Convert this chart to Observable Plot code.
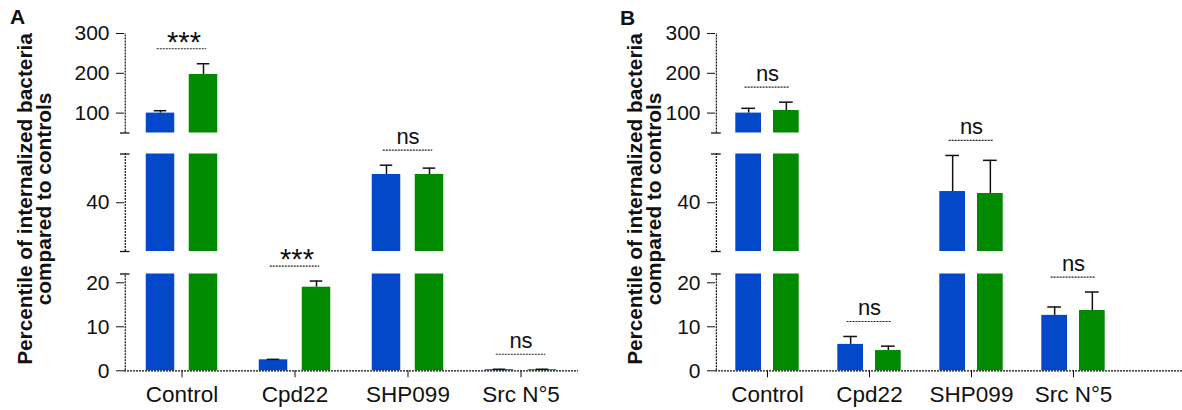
<!DOCTYPE html>
<html>
<head>
<meta charset="utf-8">
<script src="https://cdn.jsdelivr.net/npm/d3@7"></script>
<script src="https://cdn.jsdelivr.net/npm/@observablehq/plot@0.6"></script>
<style>
  body { margin: 0; background: #fff; }
  #chart { position: relative; width: 1182px; height: 410px; font-family: "Liberation Sans", Arial, sans-serif; color: #111; overflow: hidden; }
  #chart svg { position: absolute; top: 0; background: transparent !important; overflow: visible; }
  #chart [aria-label^="x-axis"] text { font-size: 22.5px; }
  #chart [aria-label^="y-axis"] text { font-size: 21px; }
  #chart [aria-label="stars"] text { letter-spacing: 3px; }
  .ylab { position: absolute; width: 380px; height: 40px; line-height: 19px; font-size: 20.8px; font-weight: bold; text-align: center; transform: rotate(-90deg); white-space: nowrap; }
  .letter { position: absolute; font-size: 21px; font-weight: bold; }
</style>
</head>
<body>
<div id="chart">
  <div class="letter" style="left:10px;top:5px;">A</div>
  <div class="letter" style="left:620px;top:6px;">B</div>
  <div class="ylab" style="left:-155px;top:179px;">Percentile of internalized bacteria<br>compared to controls</div>
  <div class="ylab" style="left:455px;top:179px;">Percentile of internalized bacteria<br>compared to controls</div>
</div>
<script>
// ---- data ----
const categories = ["Control", "Cpd22", "SHP099", "Src N°5"];

const blueA     = [100, 2.5, 45.8, 0.25];
const blueAErr  = [6, 0.1, 1.9, 0.1];
const greenA    = [197, 19.0, 45.8, 0.25];
const greenAErr = [27, 1.4, 1.3, 0.1];
const sigA      = ["***", "***", "ns", "ns"];

const blueB     = [100, 6.0, 42.3, 12.6];
const blueBErr  = [12, 1.8, 7.4, 1.9];
const greenB    = [106.5, 4.6, 41.9, 13.7];
const greenBErr = [21, 1.0, 6.8, 4.2];
const sigB      = ["ns", "ns", "ns", "ns"];

// broken y axis: segments from top to bottom
const segDomains = [[50, 300], [30, 50], [0, 22]];
const segTicks   = [[100, 200, 300], [40], [0, 10, 20]];

// ---- layout ----
const BLUE = "#0348c8", GREEN = "#008a00", INK = "#111";
const H = 410;
const segPx = [[33, 132.5], [153.5, 251], [273.5, 370.3]];

const panels = [
  {left: 0,   width: 591, ml: 124, mr: 13, outer: 20.75, inner: 63.75, cap: 6.5, br: 31.75, ext: 0,
   blue: blueA, blueErr: blueAErr, green: greenA, greenErr: greenAErr, sig: sigA},
  {left: 591, width: 591, ml: 124, mr: 58, outer: 19.3, inner: 57, cap: 7, br: 28.6, ext: 58,
   blue: blueB, blueErr: blueBErr, green: greenB, greenErr: greenBErr, sig: sigB}
];

const segOf = v => (v <= segDomains[2][1] ? 2 : v <= segDomains[1][1] ? 1 : 0);

function segmentPlot(p, k) {
  const [lo, hi] = segDomains[k];
  const [pt, pb] = segPx[k];
  const bw = (p.width - p.ml - p.mr) / categories.length;
  const barW = bw - p.outer - p.inner;
  const c = p.outer + barW / 2;
  const off = bw / 2 - c;
  const rows = categories.map((cat, i) => ({
    cat, blue: p.blue[i], blueErr: p.blueErr[i], green: p.green[i], greenErr: p.greenErr[i], sig: p.sig[i]
  }));
  const marks = [];
  for (const [key, color, iL, iR, sign] of [["blue", BLUE, p.outer, p.inner, -1], ["green", GREEN, p.inner, p.outer, 1]]) {
    const pieces = rows.filter(r => r[key] > lo).map(r => ({cat: r.cat, y1: lo, y2: Math.min(r[key], hi)}));
    marks.push(Plot.barY(pieces, {x: "cat", y1: "y1", y2: "y2", fill: color, insetLeft: iL, insetRight: iR}));
    const errs = rows.filter(r => segOf(r[key]) === k).map(r => ({cat: r.cat, v: r[key], top: r[key] + r[key + "Err"]}));
    marks.push(Plot.ruleX(errs, {x: "cat", y1: "v", y2: "top", dx: sign * off, stroke: INK, strokeWidth: 1.5}));
    const cc = sign < 0 ? c : bw - c;
    marks.push(Plot.tickY(errs, {x: "cat", y: "top", insetLeft: cc - p.cap, insetRight: bw - cc - p.cap, stroke: INK, strokeWidth: 1.5}));
  }
  const sigs = rows
    .map(r => ({cat: r.cat, sig: r.sig, top: Math.max(r.blue + r.blueErr, r.green + r.greenErr)}))
    .filter(d => segOf(d.top) === k);
  marks.push(Plot.tickY(sigs, {x: "cat", y: "top", dy: -15, insetLeft: p.br, insetRight: p.br, stroke: "#222", strokeWidth: 1.2, strokeDasharray: "2,1"}));
  marks.push(Plot.text(sigs.filter(d => d.sig === "ns"), {x: "cat", y: "top", text: "sig", dy: -21, lineAnchor: "bottom", fontSize: 22, fill: INK}));
  marks.push(Plot.text(sigs.filter(d => d.sig !== "ns"), {x: "cat", y: "top", text: "sig", dy: -12, dx: 2, lineAnchor: "bottom", fontSize: 29, fill: INK, ariaLabel: "stars"}));

  // axis line of the segment and its break caps
  marks.push(Plot.ruleX([categories[0]], {x: d => d, y1: () => lo, y2: () => hi, dx: -bw / 2, stroke: INK, strokeWidth: 1.2, strokeDasharray: "2,1"}));
  const caps = k === 0 ? [lo] : k === 1 ? [lo, hi] : [hi];
  marks.push(Plot.tickY(caps, {x: () => categories[0], y: d => d, insetLeft: -5, insetRight: bw - 5, stroke: INK, strokeWidth: 1.3}));
  if (k === 2) {
    marks.push(Plot.ruleY([0], {stroke: INK, strokeWidth: 1.2, strokeDasharray: "2,1", insetRight: -p.ext}));
  }

  const svg = Plot.plot({
    width: p.width, height: H,
    marginLeft: p.ml, marginRight: p.mr, marginTop: pt, marginBottom: H - pb,
    x: {type: "band", domain: categories, padding: 0, axis: k === 2 ? "bottom" : null, tickSize: 7, tickPadding: 8, label: null},
    y: {domain: [lo, hi], ticks: segTicks[k], tickSize: 8, tickPadding: 7, label: null},
    style: {fontFamily: "'Liberation Sans', Arial, sans-serif", fontSize: "20px", background: "transparent", overflow: "visible", color: INK},
    marks
  });
  svg.style.left = p.left + "px";
  return svg;
}

const chart = document.getElementById("chart");
for (const p of panels) {
  for (let k = 0; k < 3; k++) chart.appendChild(segmentPlot(p, k));
}
</script>
</body>
</html>
